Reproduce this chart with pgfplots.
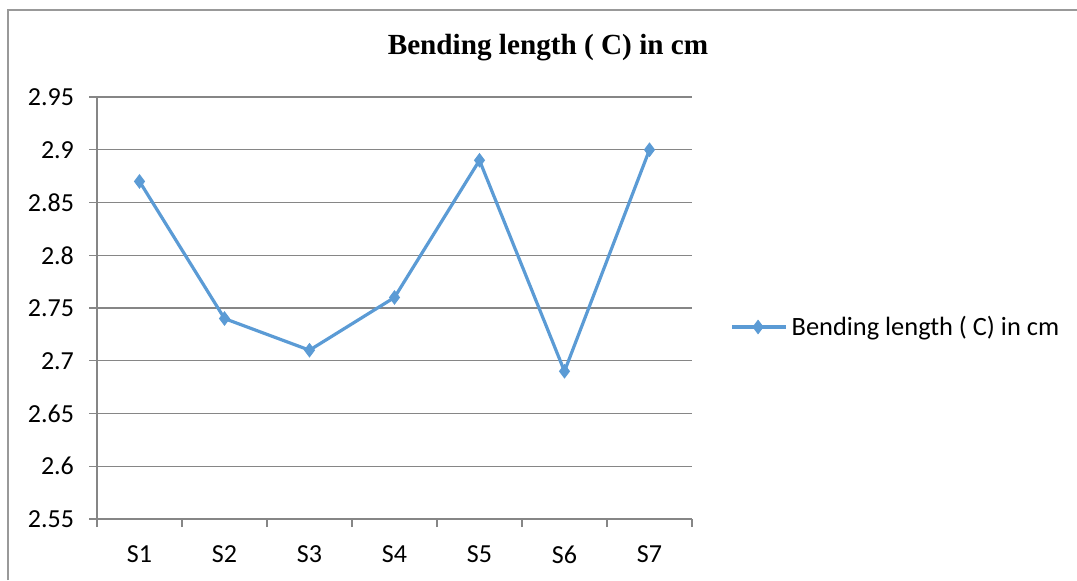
\documentclass[border=0pt]{standalone}
\usepackage{pgfplots}
\pgfplotsset{compat=1.18}
\usepackage{fontspec}
\setmainfont{Carlito}
\newfontfamily\titlefont{Liberation Serif}
\definecolor{ser}{HTML}{5B9BD5}
\definecolor{gridc}{HTML}{868686}
\begin{document}
\begin{tikzpicture}[x=0.5pt,y=0.5pt]
\useasboundingbox (0,0) rectangle (1077,580);
\draw[color=gray!80,line width=1pt] (8,0) -- (8,570) -- (1077,570);
\node[font=\titlefont\bfseries\fontsize{14.6}{16}\selectfont] at (548,532) {Bending length ( C) in cm};
\begin{axis}[
  at={(97pt*0.5,61pt*0.5)}, anchor=south west,
  scale only axis, width=297.5pt, height=211pt,
  xmin=-0.5, xmax=6.5, ymin=2.55, ymax=2.95,
  axis lines=left, axis line style={gridc, line width=0.6pt, -},
  xtick={0,...,6}, xticklabels={S1,S2,S3,S4,S5,S6,S7},
  major x tick style={draw=none},
  minor xtick={-0.5,0.5,1.5,2.5,3.5,4.5,5.5,6.5},
  minor x tick style={gridc, line width=0.6pt},
  minor tick length=4pt,
  ytick={2.55,2.6,2.65,2.7,2.75,2.8,2.85,2.9,2.95},
  yticklabels={2.55,2.6,2.65,2.7,2.75,2.8,2.85,2.9,2.95},
  ytick style={gridc, line width=0.6pt},
  major tick length=4pt,
  tick align=outside,
  ymajorgrids, grid style={gridc, line width=0.6pt},
  tick label style={font=\fontsize{13}{15}\selectfont},
  yticklabel style={xshift=-4pt},
  xticklabel style={yshift=-6pt},
  legend style={at={(1.064,0.455)}, anchor=west, draw=none, fill=none, font=\fontsize{13.2}{15}\selectfont, inner sep=0pt},
  legend cell align=left,
  legend image code/.code={\draw[ser, line width=1.6pt] (0pt,0pt) -- (27pt,0pt);
    \draw[ser, mark=diamond*, mark size=3.3pt, mark options={fill=ser, draw=ser, line width=0.5pt}] plot coordinates {(13pt,0pt)};},
  clip=false,
]
\addplot[ser, line width=1.6pt, mark=diamond*, mark size=3.3pt, mark options={fill=ser, draw=ser, line width=0.5pt}] coordinates {
(0,2.87) (1,2.74) (2,2.71) (3,2.76) (4,2.89) (5,2.69) (6,2.90)};
\addlegendentry{Bending length ( C) in cm}
\end{axis}
\end{tikzpicture}
\end{document}
